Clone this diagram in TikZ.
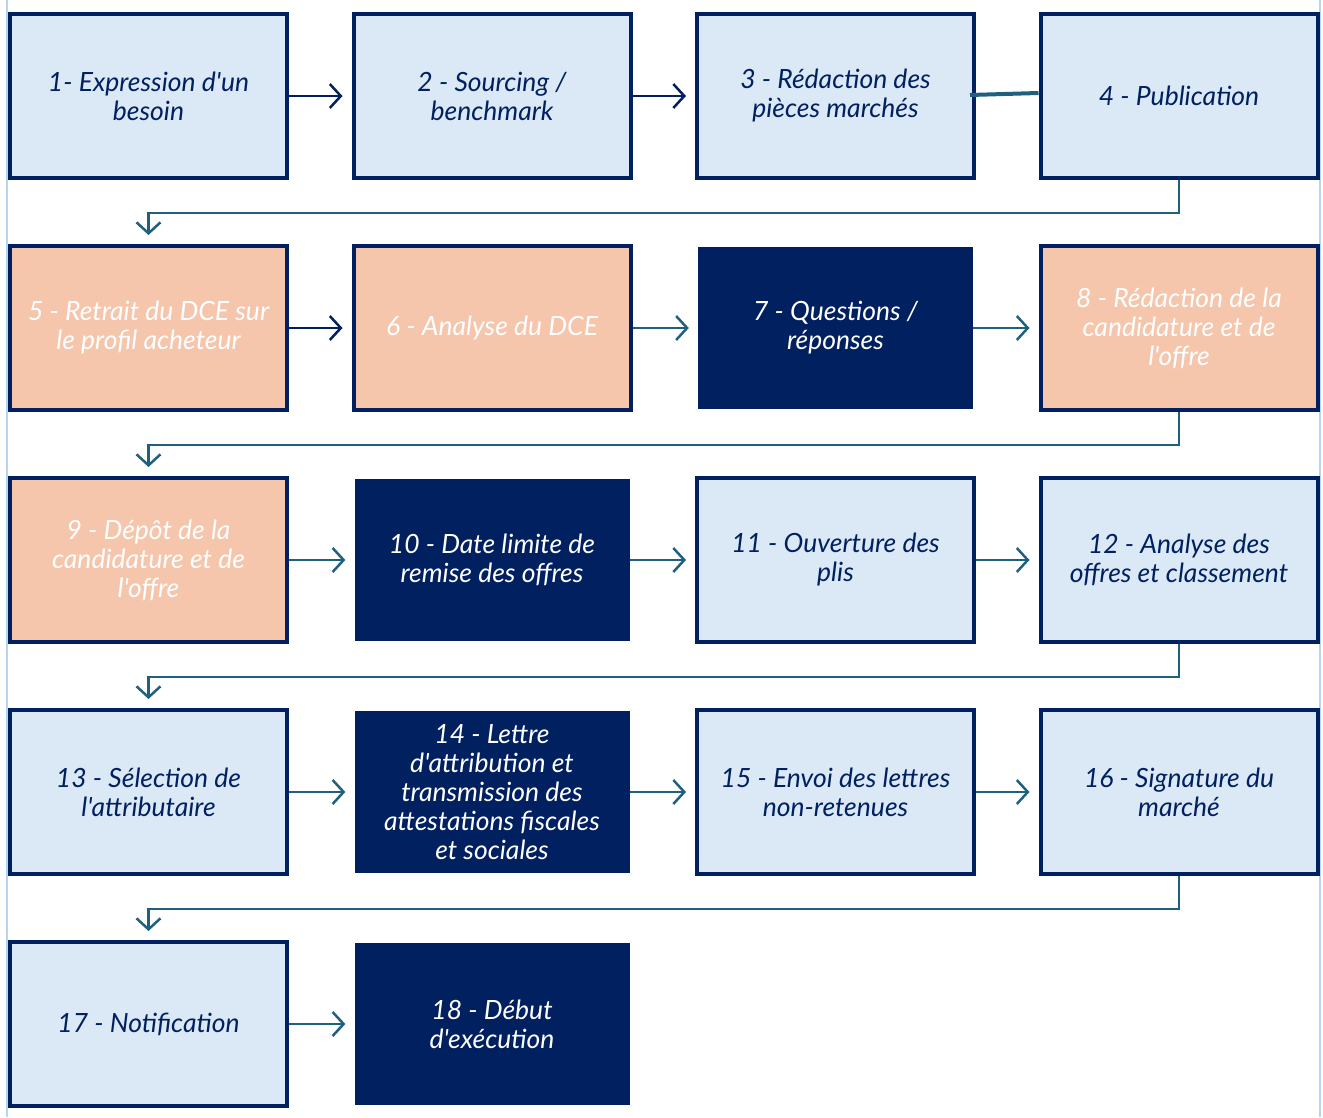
\documentclass[tikz,border=0pt]{standalone}
\usepackage{fontspec}
\setmainfont{Lato}[Ligatures=TeXOff]
\usepackage{tikz}
\usetikzlibrary{arrows.meta, positioning}
\definecolor{navy}{RGB}{0,32,96}
\definecolor{lightfill}{RGB}{219,232,245}
\definecolor{peachfill}{RGB}{245,198,172}
\definecolor{linkteal}{RGB}{31,96,128}
\definecolor{framecol}{RGB}{180,214,240}
\tikzstyle{light}=[rectangle, draw=navy, fill=lightfill, line width=4pt, minimum width=277pt, minimum height=164pt, text=navy, align=center, font=\itshape\fontsize{26.5}{29}\selectfont]
\tikzstyle{peach}=[light, fill=peachfill, text=white]
\tikzstyle{dark}=[rectangle, fill=navy, minimum width=275pt, minimum height=162pt, text=white, align=center, font=\itshape\fontsize{26.5}{29}\selectfont]
\tikzstyle{pre}=[<-, draw=linkteal, line width=2.5pt, shorten <=9pt]
\tikzstyle{back}=[->, draw=linkteal, line width=2.5pt, shorten >=9pt]

\begin{document}
\begin{tikzpicture}[node distance=343.5pt, >={Straight Barb[length=11pt, width=24pt]}]
    \useasboundingbox (-148.5pt,96pt) rectangle (1174.5pt,-1021pt);
    % Frame.
    \draw[framecol, line width=2pt] (-141.5pt,96pt) -- (-141.5pt,-1021pt);
    \draw[framecol, line width=2pt] (1171.5pt,96pt) -- (1171.5pt,-1021pt);

    % Row 1.
    \node[light] (n1) {1- Expression d'un\\besoin};
    \node[light] (n2) [right of=n1] {2 - Sourcing /\\benchmark}
      edge[pre, draw=navy] (n1);
    \node[light] (n3) [right of=n2] {3 - Rédaction des\\pièces marchés}
      edge[pre, draw=navy] (n2);
    \node[light] (n4) [right of=n3] {4 - Publication};
    \draw[linkteal, line width=4pt] ([xshift=-6pt, yshift=1pt]n3.east) -- ([yshift=3pt]n4.west);

    % Row 2.
    \node[peach] (n5) [below of=n1, node distance=232pt] {5 - Retrait du DCE sur\\le profil acheteur};
    \node[peach] (n6) [right of=n5] {6 - Analyse du DCE}
      edge[pre, draw=navy] (n5);
    \node[dark] (n7) [right of=n6] {7 - Questions /\\réponses}
      edge[pre] (n6);
    \node[peach] (n8) [right of=n7] {8 - Rédaction de la\\candidature et de\\l'offre}
      edge[pre] (n7);
    \draw[back] (n4.south) -- ++(0,-33pt) -| (n5.north);

    % Row 3.
    \node[peach] (n9) [below of=n5, node distance=232pt] {9 - Dépôt de la\\candidature et de\\l'offre};
    \node[dark] (n10) [right of=n9] {10 - Date limite de\\remise des offres}
      edge[pre] (n9);
    \node[light] (n11) [right of=n10] {11 - Ouverture des\\plis}
      edge[pre] (n10);
    \node[light] (n12) [right of=n11] {12 - Analyse des\\offres et classement}
      edge[pre] (n11);
    \draw[back] (n8.south) -- ++(0,-33pt) -| (n9.north);

    % Row 4.
    \node[light] (n13) [below of=n9, node distance=232pt] {13 - Sélection de\\l'attributaire};
    \node[dark] (n14) [right of=n13] {14 - Lettre\\d'attribution et\\transmission des\\attestations fiscales\\et sociales}
      edge[pre] (n13);
    \node[light] (n15) [right of=n14] {15 - Envoi des lettres\\non-retenues}
      edge[pre] (n14);
    \node[light] (n16) [right of=n15] {16 - Signature du\\marché}
      edge[pre] (n15);
    \draw[back] (n12.south) -- ++(0,-33pt) -| (n13.north);

    % Row 5.
    \node[light] (n17) [below of=n13, node distance=232pt] {17 - Notification};
    \node[dark] (n18) [right of=n17] {18 - Début\\d'exécution}
      edge[pre] (n17);
    \draw[back] (n16.south) -- ++(0,-33pt) -| (n17.north);
  \end{tikzpicture}
\end{document}
